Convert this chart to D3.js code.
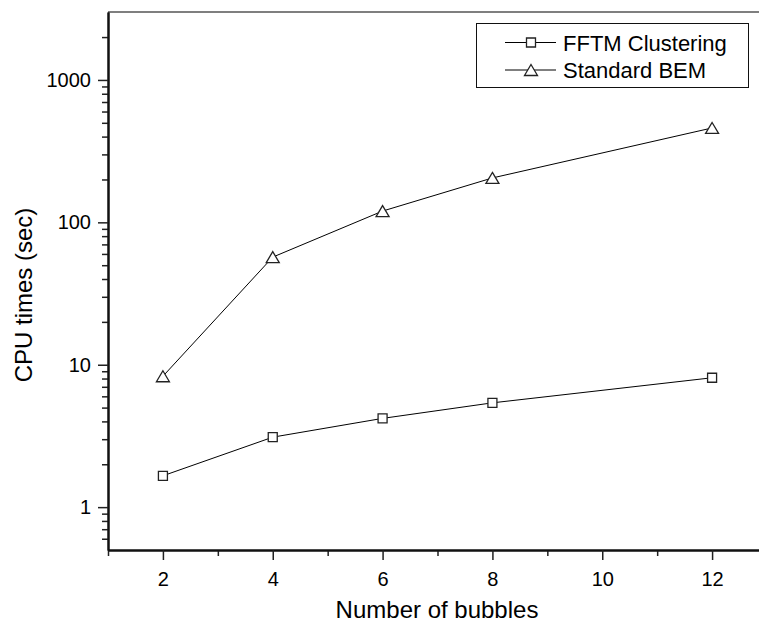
<!DOCTYPE html>
<html>
<head>
<meta charset="utf-8">
<script src="https://cdn.jsdelivr.net/npm/d3@7"></script>
<style>
  body { margin: 0; background: #fff; }
  svg { display: block; font-family: "Liberation Sans", Arial, sans-serif; }
  svg text { font-family: "Liberation Sans", Arial, sans-serif; }
</style>
</head>
<body>
<svg id="chart" width="759" height="624"></svg>
<script>
// data
const bubbles = [2, 4, 6, 8, 12];
const fftmTimes = [1.66, 3.1, 4.2, 5.4, 8.1];
const bemTimes = [8.3, 57, 120, 205, 460];
const seriesNames = ['FFTM Clustering', 'Standard BEM'];
const xMajorTicks = [2, 4, 6, 8, 10, 12];
const xMinorTicks = [1, 3, 5, 7, 9, 11];
const yMajorTicks = [1, 10, 100, 1000];
const yMinorTicks = [0.6, 0.7, 0.8, 0.9, 2, 3, 4, 5, 6, 7, 8, 9, 20, 30, 40, 50, 60, 70, 80, 90,
  200, 300, 400, 500, 600, 700, 800, 900, 2000];

const svg = d3.select('#chart');

const x = d3.scaleLinear().domain([1, 13]).range([108, 767]);
const y = d3.scaleLog().domain([0.5, 3000]).range([550, 12]);

// top frame line
svg.append('line')
    .attr('x1', 108).attr('x2', 767)
    .attr('y1', y(3000)).attr('y2', y(3000))
    .attr('stroke', '#555').attr('stroke-width', 1.5);

// axes
const xMinor = svg.append('g')
    .attr('transform', `translate(0,${y(0.5)})`)
    .call(d3.axisBottom(x).tickValues(xMinorTicks).tickSize(6).tickSizeOuter(0).tickFormat(''));
const xMajor = svg.append('g')
    .attr('transform', `translate(0,${y(0.5)})`)
    .call(d3.axisBottom(x).tickValues(xMajorTicks).tickSize(10).tickSizeOuter(0).tickPadding(6));

const yMinor = svg.append('g')
    .attr('transform', `translate(${x(1)},0)`)
    .call(d3.axisLeft(y).tickValues(yMinorTicks).tickSize(6).tickSizeOuter(0).tickFormat(''));
const yMajor = svg.append('g')
    .attr('transform', `translate(${x(1)},0)`)
    .call(d3.axisLeft(y).tickValues(yMajorTicks).tickSize(10).tickSizeOuter(0).tickPadding(7)
      .tickFormat(d3.format('d')));

[xMinor, xMajor, yMinor, yMajor].forEach(g => {
  g.attr('font-family', null).attr('font-size', null);
  g.select('.domain').attr('stroke', '#111').attr('stroke-width', 2);
  g.selectAll('.tick line').attr('stroke', '#222').attr('stroke-width', 1.5);
  g.selectAll('.tick text')
      .attr('fill', '#000')
      .style('font-size', '20px');
});
xMajor.selectAll('.tick text').attr('dy', '1.0em');

// axis titles
svg.append('text')
    .attr('x', 437).attr('y', 618)
    .attr('text-anchor', 'middle')
    .style('font-size', '24px')
    .text('Number of bubbles');

svg.append('text')
    .attr('transform', 'translate(32,295) rotate(-90)')
    .attr('text-anchor', 'middle')
    .style('font-size', '24px')
    .text('CPU times (sec)');

// marker shapes
const squarePath = 'M-4.5,-4.5H4.5V4.5H-4.5Z';
const trianglePath = 'M0,-5.5L6.5,5.5L-6.5,5.5Z';

const line = d3.line()
    .x((d, i) => x(bubbles[i]))
    .y(d => y(d));

function drawSeries(values, shape) {
  svg.append('path')
      .datum(values)
      .attr('d', line)
      .attr('fill', 'none')
      .attr('stroke', '#000')
      .attr('stroke-width', 1);

  svg.selectAll(null)
      .data(values)
    .join('path')
      .attr('d', shape)
      .attr('transform', (d, i) => `translate(${x(bubbles[i])},${y(d)})`)
      .attr('fill', '#fff')
      .attr('stroke', '#222')
      .attr('stroke-width', 1.3);
}

drawSeries(fftmTimes, squarePath);
drawSeries(bemTimes, trianglePath);

// legend
const legend = svg.append('g');
legend.append('rect')
    .attr('x', 476.5).attr('y', 23.5)
    .attr('width', 272).attr('height', 64)
    .attr('fill', '#fff')
    .attr('stroke', '#111')
    .attr('stroke-width', 1);

const legendShapes = [squarePath, trianglePath];
const legendRowY = [42.5, 70];

seriesNames.forEach((name, i) => {
  const row = legend.append('g').attr('transform', `translate(0,${legendRowY[i]})`);
  row.append('line')
      .attr('x1', 505).attr('x2', 556)
      .attr('stroke', '#000').attr('stroke-width', 1);
  row.append('path')
      .attr('d', legendShapes[i])
      .attr('transform', 'translate(531,0)')
      .attr('fill', '#fff')
      .attr('stroke', '#222')
      .attr('stroke-width', 1.3);
  row.append('text')
      .attr('x', 563).attr('y', 8)
      .style('font-size', '22px')
      .text(name);
});
</script>
</body>
</html>
